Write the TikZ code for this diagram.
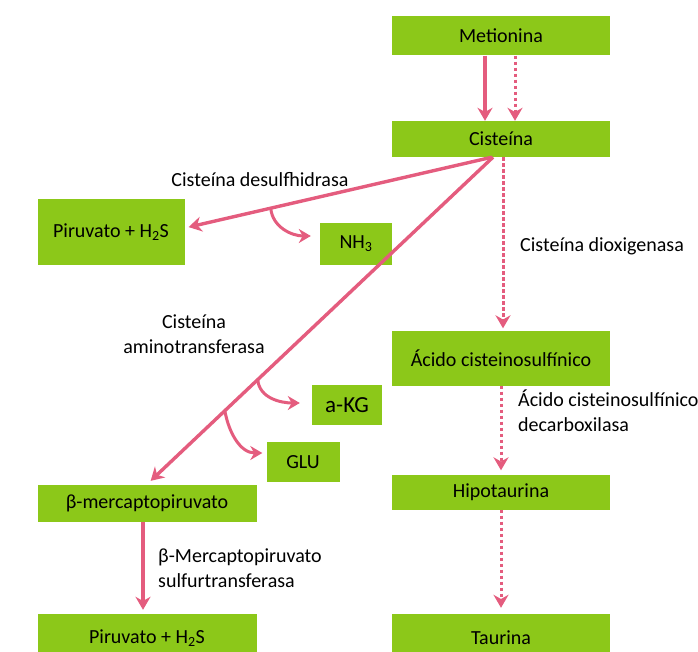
\documentclass[tikz,border=0pt]{standalone}
\usepackage{fontspec}
\setmainfont{Carlito}
\usetikzlibrary{arrows.meta}
\definecolor{boxgreen}{RGB}{140,200,25}
\definecolor{arrowpink}{RGB}{228,92,126}
\tikzset{
	box/.style={fill=boxgreen, draw=none, rectangle, inner sep=0pt, font=\fontsize{20}{23}\selectfont},
	lbl/.style={inner sep=0pt, font=\fontsize{20}{25}\selectfont},
	conn/.style={draw=arrowpink, line width=3.4pt, -{Stealth[length=13pt,width=15pt]}},
	dconn/.style={conn, line width=3pt, dash pattern=on 3.5pt off 2.5pt},
	branch/.style={draw=arrowpink, line width=3pt, -{Stealth[length=12pt,width=14pt]}}
}

\begin{document}
\begin{tikzpicture}[x=1pt, y=1pt]
			%%%%% START %%%%%
			\useasboundingbox (0, 0) rectangle (698, -652);
			
			\node[box, minimum width=218, minimum height=39] (metionina) at (501, -36) {Metionina};
			\node[box, minimum width=218, minimum height=36] (cisteina) at (501, -139) {Cisteína};
			\node[box, minimum width=147, minimum height=65] (piruvatoA) at (111, -232) {Piruvato + H\textsubscript{2}S};
			\node[box, minimum width=72, minimum height=42] (nh) at (356, -244) {NH\textsubscript{3}};
			\node[box, minimum width=218, minimum height=55] (acido) at (501, -358) {Ácido cisteinosulfínico};
			\node[box, minimum width=70, minimum height=40, font=\fontsize{23}{25}\selectfont] (akg) at (347, -405) {a-KG};
			\node[box, minimum width=73, minimum height=40] (glu) at (303, -462) {GLU};
			\node[box, minimum width=219, minimum height=37] (mercapto) at (147, -503) {β-mercaptopiruvato};
			\node[box, minimum width=218, minimum height=35] (hipotaurina) at (501, -492) {Hipotaurina};
			\node[box, minimum width=218, minimum height=48] (taurina) at (501, -638) {Taurina};
			\node[box, minimum width=219, minimum height=48] (piruvatoB) at (147, -638) {Piruvato + H\textsubscript{2}S};
			
			\node[lbl] (desulf) at (260, -180) {Cisteína desulfhidrasa};
			\node[lbl, align=center] (amino) at (194, -334) {Cisteína\\aminotransferasa};
			\node[lbl, anchor=west] (dioxi) at (520, -246) {Cisteína dioxigenasa};
			\node[lbl, anchor=west, align=left] (decarb) at (518, -411) {Ácido cisteinosulfínico\\decarboxilasa};
			\node[lbl, anchor=west, align=left] (sulfur) at (158, -568) {β-Mercaptopiruvato\\sulfurtransferasa};
			
			\draw[conn] ([xshift=-16pt]metionina.south) -- ([xshift=-16pt]cisteina.north);
			\draw[dconn] ([xshift=14pt]metionina.south) -- ([xshift=14pt]cisteina.north);
			
			\draw[conn, shorten >=4pt] ([xshift=-9pt]cisteina.south) -- ([yshift=4pt]piruvatoA.east) coordinate[pos=0.72] (nhfork);
			\draw[conn, shorten >=5pt] ([xshift=-8pt]cisteina.south) -- (mercapto.north) coordinate[pos=0.68] (akgfork) coordinate[pos=0.775] (glufork);
			
			\draw[branch] (nhfork) to[out=-85, in=180] ([xshift=-9pt, yshift=8pt]nh.west);
			\draw[branch] (akgfork) to[out=-85, in=180] ([xshift=-12pt, yshift=2pt]akg.west);
			\draw[branch] (glufork) to[out=-80, in=180] ([xshift=-4pt, yshift=9pt]glu.west);
			
			\draw[dconn, shorten >=2pt] ([xshift=2pt]cisteina.south) -- ([xshift=2pt]acido.north);
			\draw[dconn, shorten >=4pt] (acido.south) -- (hipotaurina.north);
			\draw[dconn, shorten >=6pt] (hipotaurina.south) -- (taurina.north);
			\draw[conn, shorten >=4pt] ([xshift=-4pt]mercapto.south) -- ([xshift=-4pt]piruvatoB.north);
			
			%%%%% END %%%%%
		\end{tikzpicture}
\end{document}
